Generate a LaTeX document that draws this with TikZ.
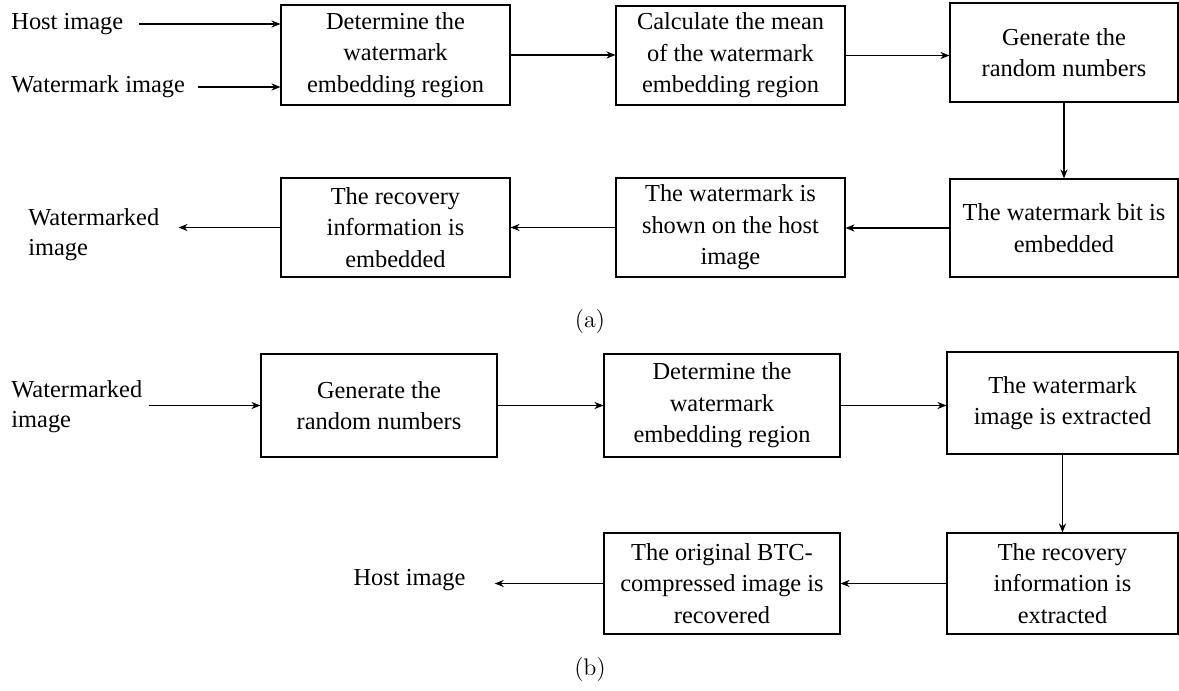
\documentclass[tikz,border=0pt]{standalone}
\usepackage{fontspec}
\newfontfamily\tnr{Liberation Serif}
\usetikzlibrary{arrows.meta}
\begin{document}
\begin{tikzpicture}[x=0.5pt,y=-0.5pt,
  proc/.style={draw, line width=0.6pt, align=center, inner sep=0pt,
    font=\tnr\fontsize{12.2}{15.8}\selectfont},
  lbl/.style={inner sep=0pt, align=left, font=\tnr\fontsize{12.2}{15}\selectfont},
  arr/.style={-{Stealth[length=4.5pt,width=3.6pt]}, line width=0.6pt},
  capt/.style={inner sep=0pt, font=\fontsize{12}{14}\selectfont}]
\useasboundingbox (0,0) rectangle (1179,691);
% ---------- (a) ----------
\node[proc, minimum width=114.5pt, minimum height=50pt] (a1) at (395.5,55) {Determine the\\watermark\\embedding region};
\node[proc, minimum width=114.5pt, minimum height=49.5pt] (a2) at (730.5,55.5) {Calculate the mean\\of the watermark\\embedding region};
\node[proc, minimum width=114pt, minimum height=49.5pt] (a3) at (1064,52.5) {Generate the\\random numbers};
\node[proc, minimum width=114pt, minimum height=49pt] (a4) at (1064,228) {The watermark bit is\\embedded};
\node[proc, minimum width=114.5pt, minimum height=49.5pt] (a5) at (730.5,227.5) {The watermark is\\shown on the host\\image};
\node[proc, minimum width=114.5pt, minimum height=49.5pt] (a6) at (395.5,227.5) {The recovery\\information is\\embedded};
\node[lbl, anchor=west] (hosta) at (11,24) {Host image};
\node[lbl, anchor=west] (wmka) at (11,87) {Watermark image};
\node[lbl, anchor=west] (wmda) at (28,235) {Watermarked\\image};
\coordinate (wmdatip) at ([xshift=9.5pt]wmda.east);
\draw[arr] ([xshift=7.5pt]hosta.east) -- (hosta.east -| a1.west);
\draw[arr] ([xshift=6.5pt]wmka.east) -- (wmka.east -| a1.west);
\draw[arr] (a1.east) -- (a1.east -| a2.west);
\draw[arr] (a2.east) -- (a2.east -| a3.west);
\draw[arr] (a3.south) -- (a4.north);
\draw[arr] (a4.west) -- (a4.west -| a5.east);
\draw[arr] (a5.west) -- (a5.west -| a6.east);
\draw[arr] (a6.west) -- (a6.west -| wmdatip);
\node[capt] (capa) at (590,322) {(a)};
% ---------- (b) ----------
\node[proc, minimum width=118pt, minimum height=51.5pt] (b1) at (379,405.5) {Generate the\\random numbers};
\node[proc, minimum width=118pt, minimum height=51.5pt] (b2) at (722,405.5) {Determine the\\watermark\\embedding region};
\node[proc, minimum width=115.5pt, minimum height=51pt] (b3) at (1062.5,403) {The watermark\\image is extracted};
\node[proc, minimum width=115.5pt, minimum height=50.5pt] (b4) at (1062.5,583.5) {The recovery\\information is\\extracted};
\node[proc, minimum width=118pt, minimum height=50.5pt] (b5) at (722,583.5) {The original BTC-\\compressed image is\\recovered};
\node[lbl, anchor=west] (wmdb) at (11,407) {Watermarked\\image};
\node[lbl] (hostb) at (409.5,580) {Host image};
\coordinate (wmdbs) at ([xshift=3pt]wmdb.east);
\coordinate (hostbtip) at ([xshift=14.5pt]hostb.east);
\draw[arr] (wmdbs |- b1.west) -- (b1.west);
\draw[arr] (b1.east) -- (b2.west);
\draw[arr] (b2.east) -- (b2.east -| b3.west);
\draw[arr] (b3.south) -- (b4.north);
\draw[arr] (b4.west) -- (b5.east);
\draw[arr] (b5.west) -- (b5.west -| hostbtip);
\node[capt] (capb) at (590,670) {(b)};
\end{tikzpicture}
\end{document}
